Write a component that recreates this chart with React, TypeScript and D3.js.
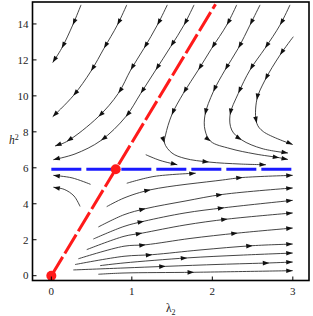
import React from 'react';
import * as d3 from 'd3';

const W = 313;
const H = 316;
const MARGIN = { left: 32.5, right: 4, top: 2, bottom: 35.5 };

const xTicks = [0, 1, 2, 3];
const yTicks = [0, 2, 4, 6, 8, 10, 12, 14];

const fixedPoints: [number, number][] = [[0, 0], [0.8, 5.92]];
const redLine: [number, number][] = [[0, 0], [2.04, 15.1]];
const blueLine: [number, number][] = [[0, 5.92], [3, 5.92]];

// streamlines: [lambda2, h^2, arrowhead here?]
type P = [number, number, number?];

const flowLeft: P[][] = [
  [[0.369, 15.06], [0.266, 13.94, 1], [0.129, 12.65, 1], [0.017, 11.85, 1]],
  [[0.937, 15.06], [0.82, 13.94, 1], [0.655, 12.65, 1], [0.493, 11.38, 1], [0.273, 10.01, 1], [0.017, 8.84, 1]],
  [[1.441, 15.06], [1.317, 13.94, 1], [1.152, 12.65, 1], [0.986, 11.44, 1], [0.832, 10.14, 1], [0.584, 8.84, 1], [0.191, 7.46, 1], [0.046, 7.21, 1]],
  [[1.773, 15.06], [1.648, 13.94, 1], [1.483, 12.74, 1], [1.297, 11.44, 1], [1.111, 10.14, 1], [0.924, 8.84, 1], [0.617, 7.52, 1], [0.294, 6.77], [0.025, 6.45, 1]],
  [[0.487, 5.08], [0.257, 5.44], [0.025, 5.58, 1]],
  [[0.357, 3.85], [0.282, 4.43], [0.16, 4.8], [0.025, 4.92, 1]],
];

const flowAbove: P[][] = [
  [[2.303, 15.06], [2.179, 13.94, 1], [1.993, 12.65, 1], [1.826, 11.44, 1], [1.64, 10.14, 1], [1.496, 8.94, 1], [1.419, 7.83], [1.406, 7.38, 1], [1.499, 6.82], [1.661, 6.52], [1.959, 6.32, 1], [2.344, 6.21], [2.667, 6.17, 1]],
  [[2.593, 15.06], [2.468, 13.94, 1], [2.323, 12.65, 1], [2.158, 11.44, 1], [2.012, 10.23, 1], [1.909, 8.94, 1], [1.909, 8.1], [1.98, 7.47, 1], [2.22, 7.07], [2.53, 6.77], [2.832, 6.56, 1], [2.94, 6.46, 1]],
  [[2.965, 15.06], [2.841, 13.94, 1], [2.655, 12.65, 1], [2.468, 11.44, 1], [2.323, 10.14, 1], [2.22, 8.94, 1], [2.241, 8.1], [2.365, 7.55, 1], [2.617, 7.07], [2.94, 6.82, 1]],
  [[3.006, 13.29], [2.841, 12.27, 1], [2.655, 10.88, 1], [2.552, 9.77, 1], [2.552, 8.48, 1], [2.634, 8.01], [2.999, 7.29, 1]],
  [[1.173, 6.73], [1.35, 6.41], [1.565, 6.17, 1]],
];

const flowBelow: P[][] = [
  [[0.937, 5.14], [1.276, 5.52], [1.794, 5.7, 1]],
  [[0.688, 3.84], [0.903, 4.32], [1.235, 4.78, 1], [2.124, 5.32], [2.378, 5.46, 1], [2.999, 5.58, 1]],
  [[0.584, 2.71], [0.903, 3.39], [1.173, 3.73, 1], [1.661, 4.15], [2.129, 4.52, 1], [2.999, 4.88, 1]],
  [[0.522, 2.04], [0.903, 2.74], [1.152, 3.03, 1], [1.661, 3.49], [2.149, 3.78, 1], [2.999, 4.19, 1]],
  [[0.44, 1.45], [0.903, 2.19], [1.13, 2.37, 1], [1.661, 2.82], [2.191, 3.15, 1], [2.999, 3.49, 1]],
  [[0.335, 0.94], [0.903, 1.64], [1.173, 1.72, 1], [1.723, 2.07], [2.316, 2.37, 1], [2.999, 2.65, 1]],
  [[0.294, 0.62], [0.903, 1.08], [1.255, 1.17, 1], [1.847, 1.43], [2.502, 1.67, 1], [2.999, 1.76, 1]],
  [[0.605, 0.56], [0.903, 0.71], [1.689, 0.99, 1], [2.344, 1.14], [2.999, 1.26, 1]],
  [[0.273, 0.32], [0.903, 0.43], [1.421, 0.52, 1], [2.096, 0.63], [2.708, 0.71, 1], [2.999, 0.76, 1]],
  [[0.584, 0.08], [0.903, 0.15], [1.773, 0.19, 1], [2.999, 0.28, 1]],
];

const streamlines = [...flowLeft, ...flowAbove, ...flowBelow];

const x = d3.scaleLinear().domain([-0.234, 3.201]).range([MARGIN.left, W - MARGIN.right]);
const y = d3.scaleLinear().domain([-0.267, 15.22]).range([H - MARGIN.bottom, MARGIN.top]);

const line = d3.line<P>()
  .x(d => x(d[0]))
  .y(d => y(d[1]))
  .curve(d3.curveCatmullRom.alpha(0.5));

function arrowHead(pts: P[], i: number) {
  const px = pts.map(p => [x(p[0]), y(p[1])]);
  const a = px[Math.max(0, i - 1)];
  const b = i < px.length - 1 ? px[i + 1] : px[i];
  let dx = b[0] - a[0], dy = b[1] - a[1];
  const len = Math.hypot(dx, dy) || 1;
  dx /= len; dy /= len;
  const [tx, ty] = px[i];
  const L = 6.5, hw = 2.3;
  const bx = tx - dx * L, by = ty - dy * L;
  return `M${tx},${ty}L${bx - dy * hw},${by + dx * hw}L${bx + dy * hw},${by - dx * hw}Z`;
}

const serif = "'Times New Roman', 'Liberation Serif', serif";

export default function App() {
  const x0 = MARGIN.left, x1 = W - MARGIN.right;
  const y0 = MARGIN.top, y1 = H - MARGIN.bottom;
  return (
    <svg width={W} height={H} style={{ position: 'absolute', left: 0, top: 0, background: '#fff' }}>
      {streamlines.map((s, k) => (
        <g key={k}>
          <path d={line(s) || ''} fill="none" stroke="#222" strokeWidth={0.85} />
          {s.map((p, i) => (p[2] ? <path key={i} d={arrowHead(s, i)} fill="#111" /> : null))}
        </g>
      ))}
      <line x1={x(blueLine[0][0])} y1={y(blueLine[0][1])} x2={x(blueLine[1][0])} y2={y(blueLine[1][1])}
        stroke="#1a1aff" strokeWidth={3} strokeDasharray="30,5" />
      <line x1={x(redLine[0][0])} y1={y(redLine[0][1])} x2={x(redLine[1][0])} y2={y(redLine[1][1])}
        stroke="#ff1a1a" strokeWidth={3} strokeDasharray="22,4" />
      {fixedPoints.map((p, i) => (
        <circle key={i} cx={x(p[0])} cy={y(p[1])} r={5} fill="#ff1a1a" />
      ))}
      <rect x={x0} y={y0} width={x1 - x0} height={y1 - y0} fill="none" stroke="#000" strokeWidth={1.6} />
      <g style={{ fontFamily: serif }} fill="#222">
        {xTicks.map(t => (
          <g key={t}>
            <line x1={x(t)} x2={x(t)} y1={y1} y2={y1 - 4} stroke="#000" strokeWidth={1} />
            <text x={x(t)} y={y1 + 14} textAnchor="middle" fontSize={11}>{t}</text>
          </g>
        ))}
        {yTicks.map(t => (
          <g key={t}>
            <line x1={x0} x2={x0 + 4} y1={y(t)} y2={y(t)} stroke="#000" strokeWidth={1} />
            <text x={x0 - 4} y={y(t) + 3.8} textAnchor="end" fontSize={11}>{t}</text>
          </g>
        ))}
        <text x={(x0 + x1) / 2} y={312} textAnchor="middle" fontSize={11.5}>
          λ<tspan fontSize={8} dy={2.5}>2</tspan>
        </text>
        <text x={9} y={y(7.3)} fontSize={11.5} fontStyle="italic">
          h<tspan fontSize={8} dy={-4.5} fontStyle="normal">2</tspan>
        </text>
      </g>
    </svg>
  );
}
